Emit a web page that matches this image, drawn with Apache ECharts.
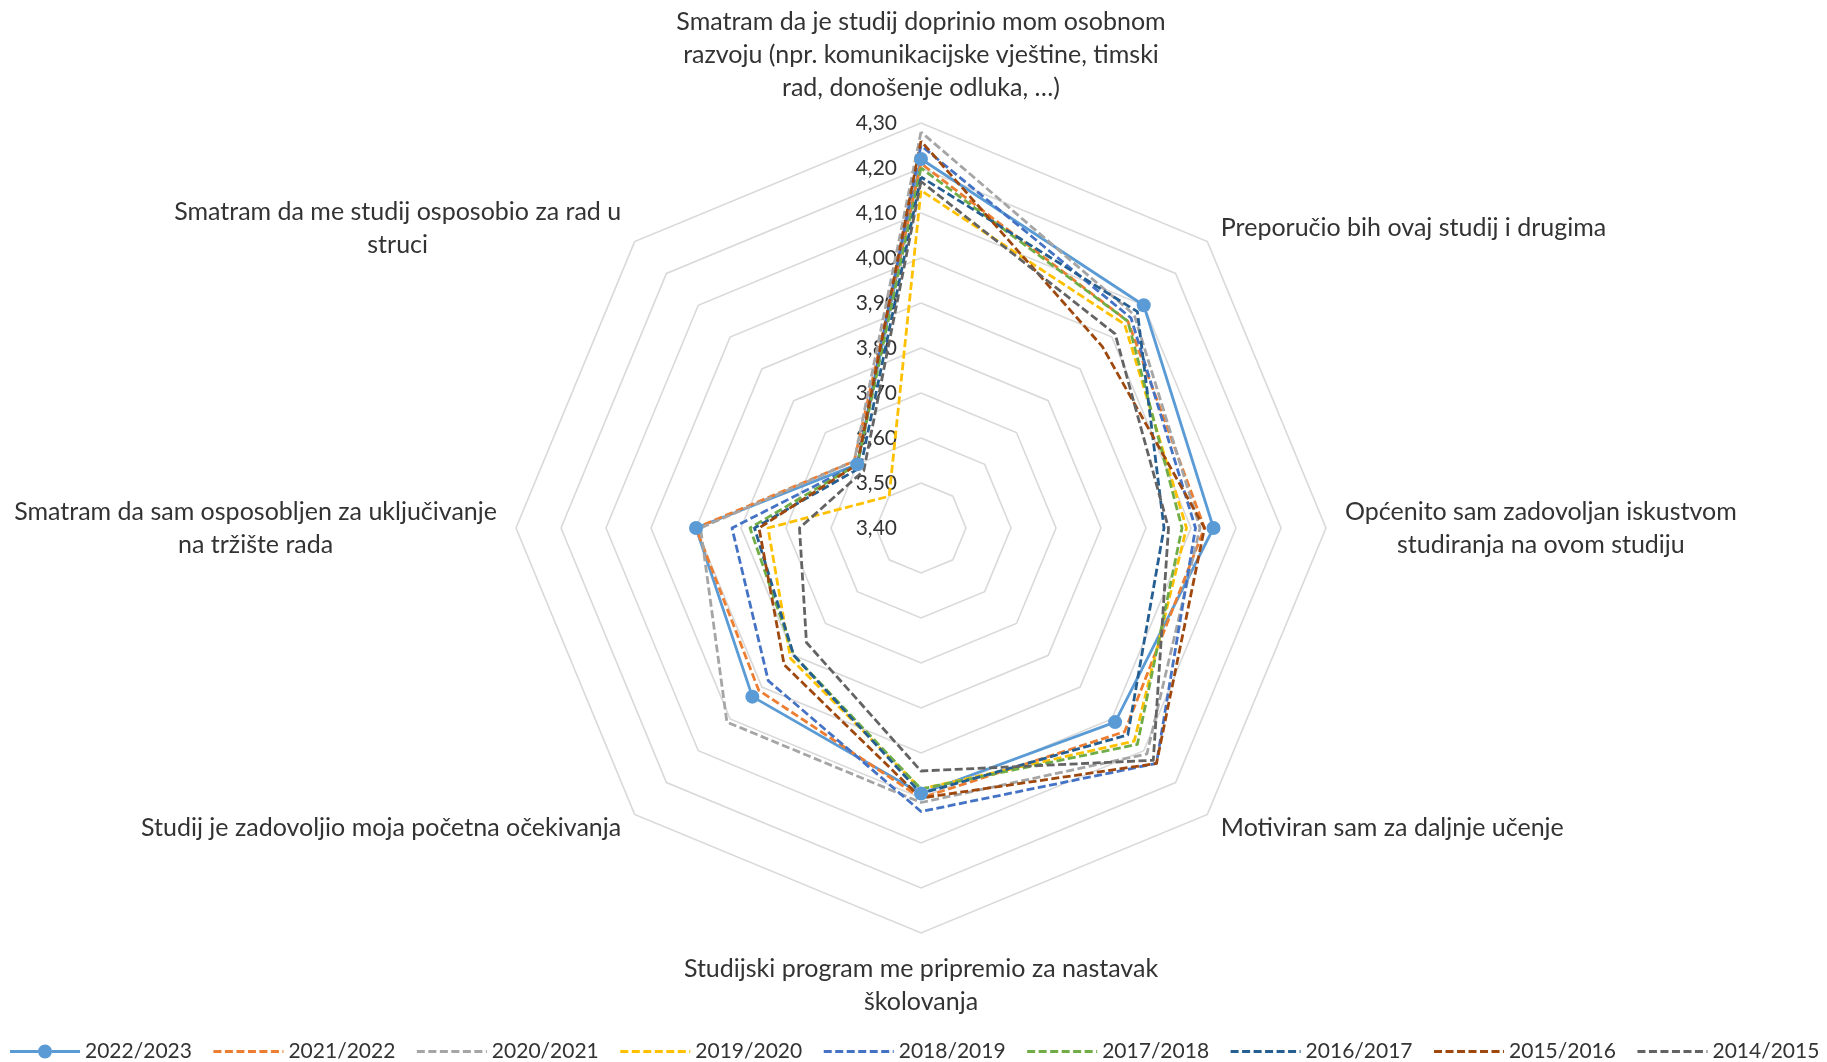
<!DOCTYPE html>
<html><head><meta charset="utf-8">
<script src="https://cdn.jsdelivr.net/npm/echarts@6/dist/echarts.min.js"></script>
<style>html,body{margin:0;padding:0;background:#fff}#c{width:1827px;height:1062px}</style>
</head><body><div id="c"></div>
<script>
// Axes in clockwise order starting at the top
const axisNames = [
  'Smatram da je studij doprinio mom osobnom\nrazvoju (npr. komunikacijske vještine, timski\nrad, donošenje odluka, …)',
  'Preporučio bih ovaj studij i drugima',
  'Općenito sam zadovoljan iskustvom\nstudiranja na ovom studiju',
  'Motiviran sam za daljnje učenje',
  'Studijski program me pripremio za nastavak\nškolovanja',
  'Studij je zadovoljio moja početna očekivanja',
  'Smatram da sam osposobljen za uključivanje\nna tržište rada',
  'Smatram da me studij osposobio za rad u\nstruci'
];
const years = ['2022/2023','2021/2022','2020/2021','2019/2020','2018/2019','2017/2018','2016/2017','2015/2016','2014/2015'];
const colors = ['#5B9BD5','#ED7D31','#A5A5A5','#FFC000','#4472C4','#70AD47','#255E91','#9E480E','#636363'];

const v2022_2023 = [4.22, 4.10, 4.05, 4.01, 3.99, 3.93, 3.90, 3.60];
const v2021_2022 = [4.21, 4.05, 4.03, 4.04, 4.00, 3.91, 3.90, 3.61];
const v2020_2021 = [4.28, 4.07, 4.02, 4.11, 4.01, 4.01, 3.89, 3.61];
const v2019_2020 = [4.15, 4.04, 3.99, 4.07, 3.98, 3.81, 3.74, 3.50];
const v2018_2019 = [4.25, 4.06, 4.01, 4.14, 4.03, 3.88, 3.82, 3.60];
const v2017_2018 = [4.20, 4.05, 3.98, 4.08, 3.98, 3.80, 3.78, 3.60];
const v2016_2017 = [4.18, 4.08, 3.94, 4.05, 3.99, 3.80, 3.77, 3.59];
const v2015_2016 = [4.26, 3.97, 4.03, 4.14, 4.00, 3.83, 3.76, 3.60];
const v2014_2015 = [4.17, 4.01, 3.95, 4.13, 3.94, 3.76, 3.67, 3.58];
const seriesValues = [v2022_2023, v2021_2022, v2020_2021, v2019_2020, v2018_2019, v2017_2018, v2016_2017, v2015_2016, v2014_2015];

const axisMin = 3.4, axisMax = 4.3, axisSplits = 9;

// ECharts lays radar indicators counterclockwise; reorder so the picture reads clockwise
const order = [0, 7, 6, 5, 4, 3, 2, 1];
const FONT = 'Lato';
const TXT = '#333333';

// legend icons (70 x 14 box): dashed line, or solid line with a circle marker
function dashedIcon() {
  let p = 'M0,0 L0.01,0 L0.01,0.01 Z M69.99,13.99 L70,13.99 L70,14 Z ';
  for (let x = 0; x < 70; x += 11.5) {
    const e = Math.min(x + 8, 70);
    p += 'M' + x + ',5.6 L' + e + ',5.6 L' + e + ',8.4 L' + x + ',8.4 Z ';
  }
  return 'path://' + p;
}
const solidIcon = 'path://M0,5.6 L28,5.6 L28,8.4 L0,8.4 Z M42,5.6 L70,5.6 L70,8.4 L42,8.4 Z ' +
  'M28,7 A7,7 0 1,1 42,7 A7,7 0 1,1 28,7 Z';

const indicator = order.map((i, k) => ({
  name: axisNames[i], min: axisMin, max: axisMax,
  axisLabel: { show: k === 0 }
}));

const series = [{
  type: 'radar',
  data: seriesValues.map((vals, s) => {
    const isFirst = s === 0;
    return {
      name: years[s],
      value: order.map(i => vals[i]),
      symbol: isFirst ? 'circle' : 'none',
      symbolSize: 14,
      itemStyle: { color: colors[s] },
      lineStyle: { color: colors[s], width: 2.8, type: isFirst ? 'solid' : [8, 3.5] }
    };
  })
}];

const chart = echarts.init(document.getElementById('c'));
chart.setOption({
  backgroundColor: '#fff',
  animation: false,
  color: colors,
  legend: {
    data: years.map((y, s) => ({
      name: y,
      icon: s === 0 ? solidIcon : dashedIcon(),
      itemStyle: { color: colors[s], borderWidth: 0 }
    })),
    left: 10, top: 1041, padding: 0,
    itemWidth: 70, itemHeight: 14, itemGap: 21.5, itemTextGap: 6,
    textStyle: { fontFamily: FONT, fontSize: 21, color: TXT }
  },
  radar: {
    center: [921, 528],
    radius: 405,
    startAngle: 90,
    shape: 'polygon',
    splitNumber: axisSplits,
    indicator: indicator,
    nameGap: 19,
    axisName: {
      color: TXT, fontFamily: FONT, fontSize: 25, lineHeight: 33,
      formatter: (name) => name.split('\n').map(l => '{c|' + l + '}').join('\n'),
      rich: { c: { align: 'center', color: TXT, fontFamily: FONT, fontSize: 25, lineHeight: 33 } }
    },
    axisLine: { show: false },
    axisTick: { show: false },
    splitArea: { show: false },
    splitLine: { lineStyle: { color: '#D9D9D9', width: 1.6 } },
    axisLabel: {
      show: false, color: TXT, fontFamily: FONT, fontSize: 21, margin: 24,
      formatter: (v) => Number(v).toFixed(2).replace('.', ',')
    }
  },
  series: series
});
</script></body></html>
